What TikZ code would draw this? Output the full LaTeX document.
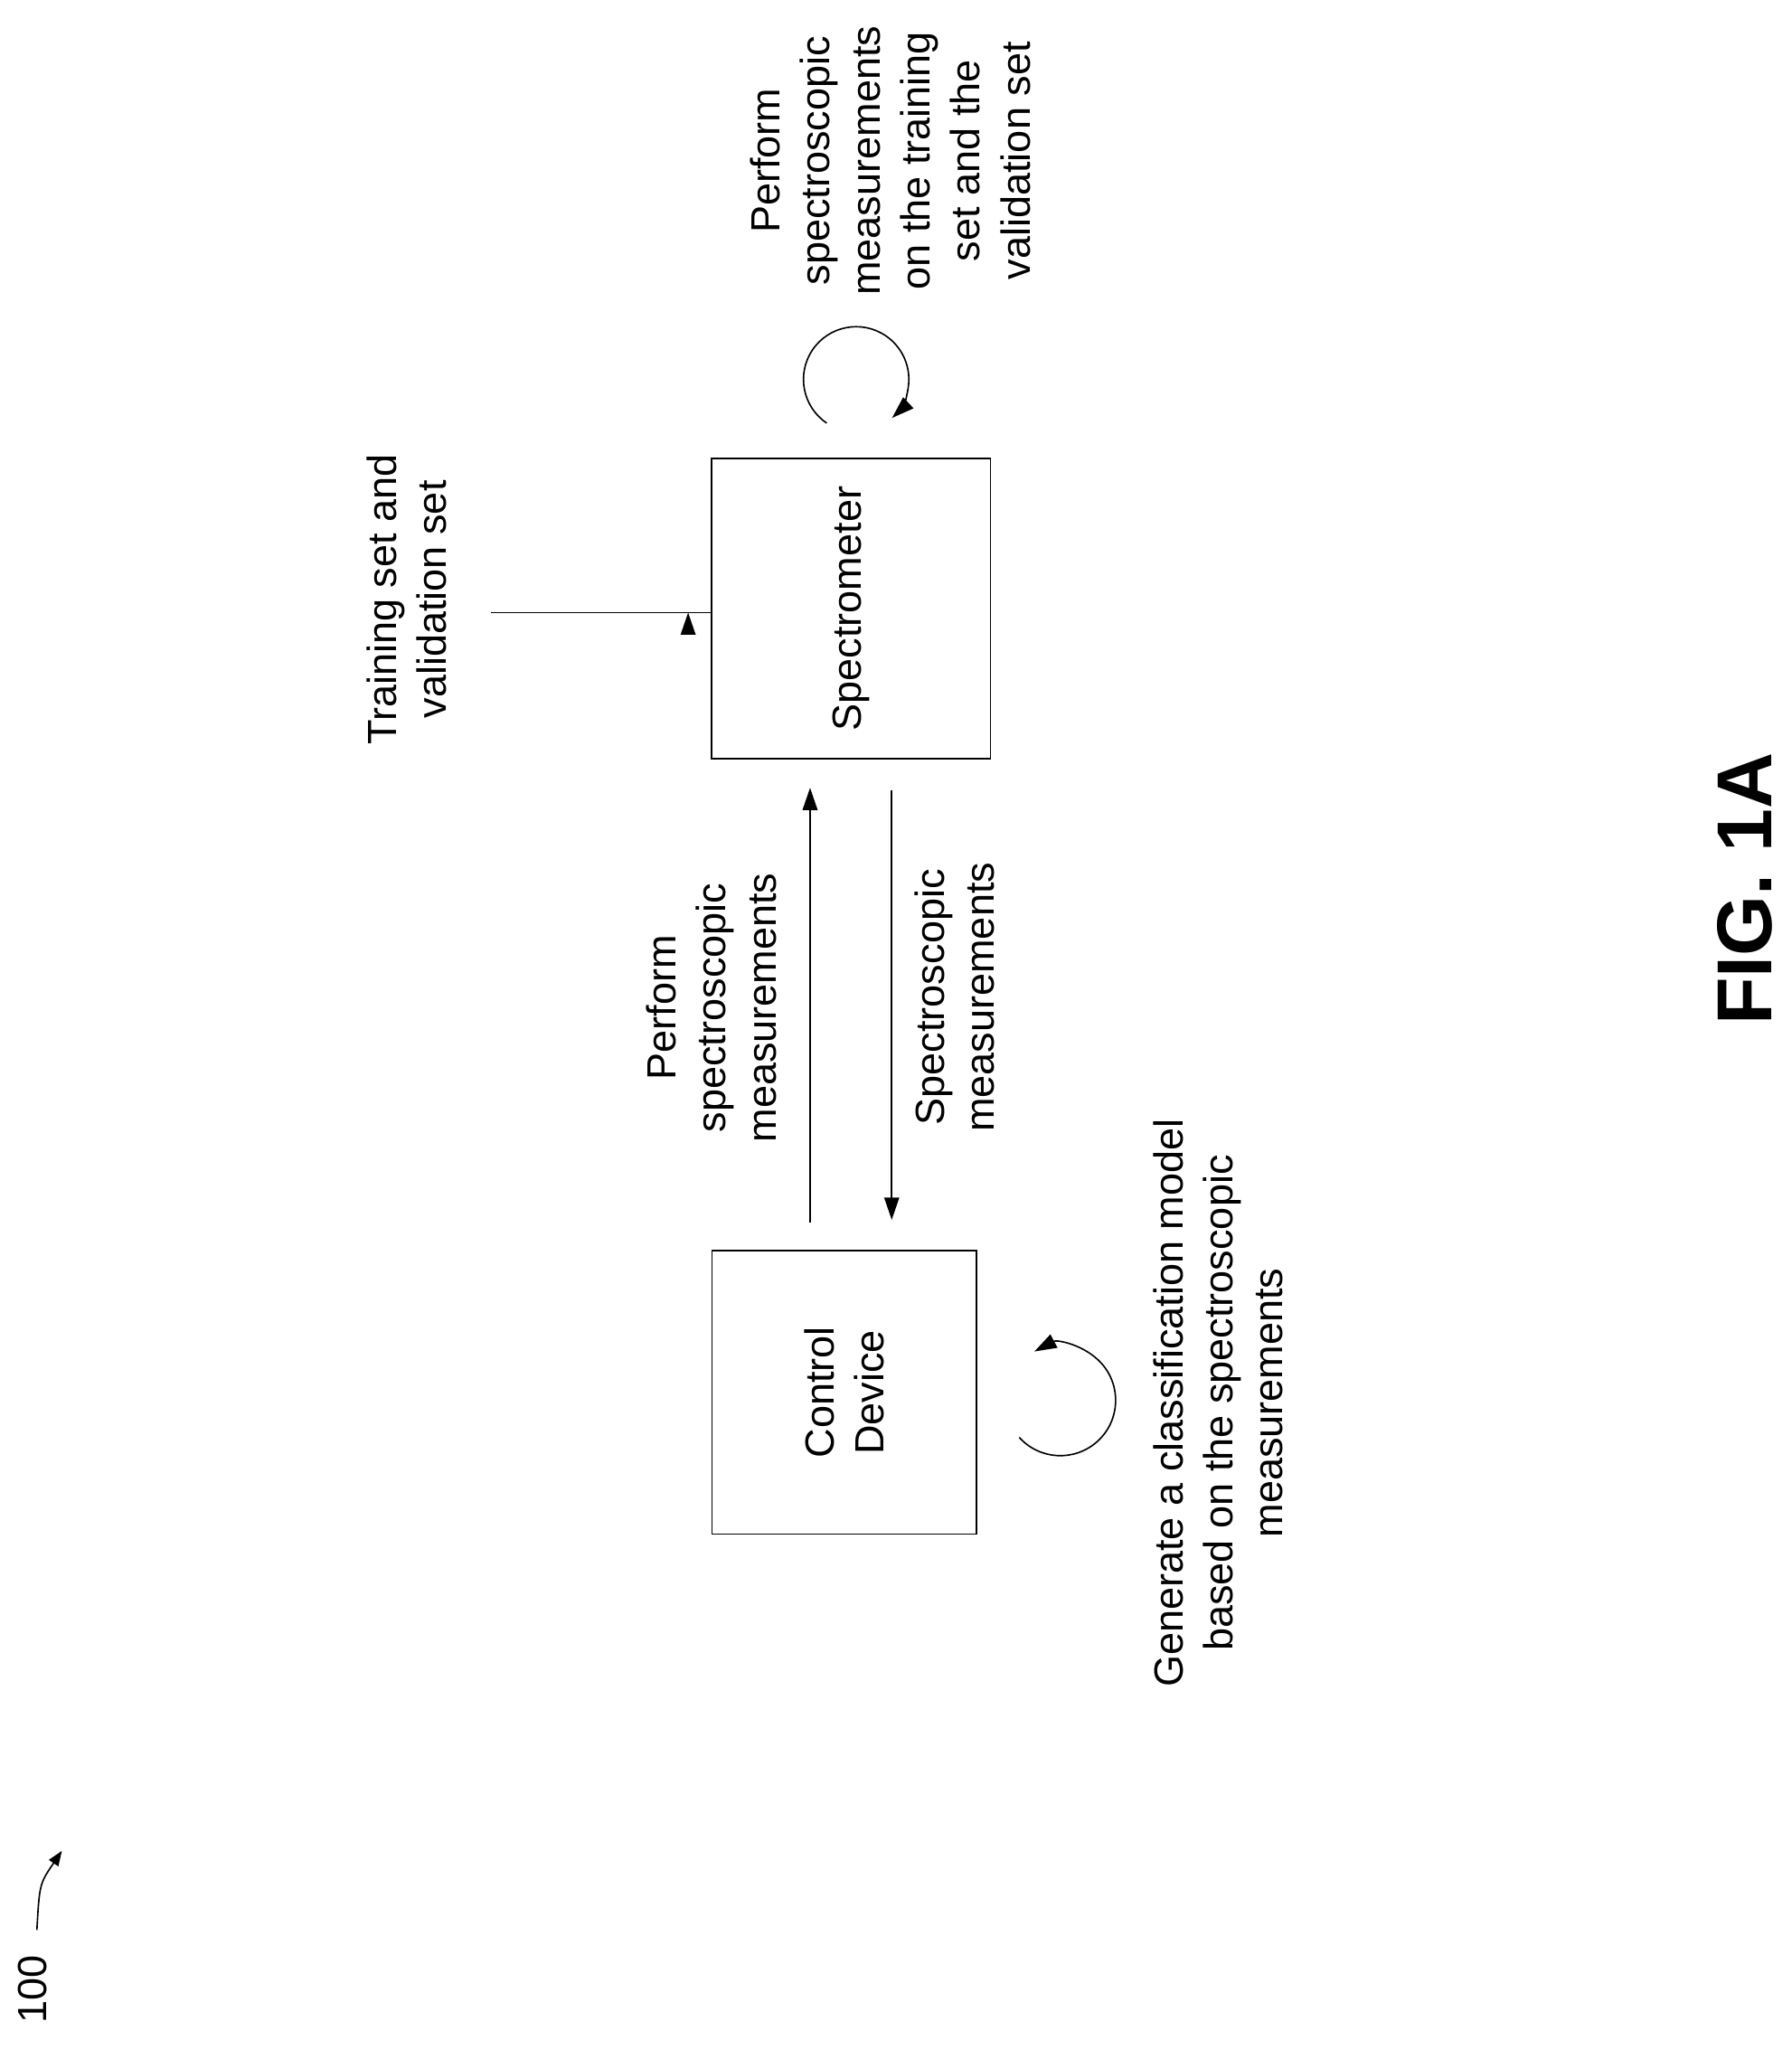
\documentclass[tikz,border=0pt]{standalone}
\usepackage{fontspec}
\setmainfont{Liberation Sans}
\usetikzlibrary{arrows.meta}
\begin{document}
\begin{tikzpicture}[x=0.05cm,y=0.05cm,
  box/.style={draw,line width=1.6pt},
  lbl/.style={rotate=90,align=center,font=\fontsize{44}{54}\selectfont},
  arr/.style={line width=1.6pt,-{Triangle[length=24pt,width=16pt]}}]
\useasboundingbox (0,0) rectangle (1360,-1563);
\node[box,minimum width=212*0.05cm,minimum height=228*0.05cm] (spec) at (646,-462) {};
\node[lbl] at (spec) {Spectrometer};
\node[box,minimum width=201*0.05cm,minimum height=215*0.05cm] (ctrl) at (641,-1057) {};
\node[lbl] at (ctrl) {Control\\Device};
\coordinate (ts) at (373,-465);
\draw[arr] (ts) -- (spec.west|-ts) ++(-17,0) coordinate (tse);
\node[lbl] at (309,-455) {Training set and\\validation set};
\coordinate (u1) at (615,-928); \coordinate (u2) at (615,-598);
\draw[arr] (u1) -- (u2);
\node[lbl] at (540,-765) {Perform\\spectroscopic\\measurements};
\coordinate (d1) at (677,-600); \coordinate (d2) at (677,-926);
\draw[arr] (d1) -- (d2);
\node[lbl] at (725,-757) {Spectroscopic\\measurements};
\draw[arr] (650,-288) ++(236:40) arc[start angle=236,end angle=-47,radius=40];
\node[lbl] at (676,-122) {Perform\\spectroscopic\\measurements\\on the training\\set and the\\validation set};
\draw[arr] (805,-1063) ++(222:42) arc[start angle=222,end angle=478,radius=42];
\node[lbl] at (925,-1065) {Generate a classification model\\based on the spectroscopic\\measurements};
\node[rotate=90,font=\fontsize{84}{100}\selectfont\bfseries] at (1325,-675) {FIG. 1A};
\node[lbl] (n100) at (25,-1510) {100};
\draw[line width=1.6pt,-{Triangle[length=16pt,width=12pt]}] (28,-1465) .. controls (30,-1430) .. (47,-1405);
\end{tikzpicture}
\end{document}
